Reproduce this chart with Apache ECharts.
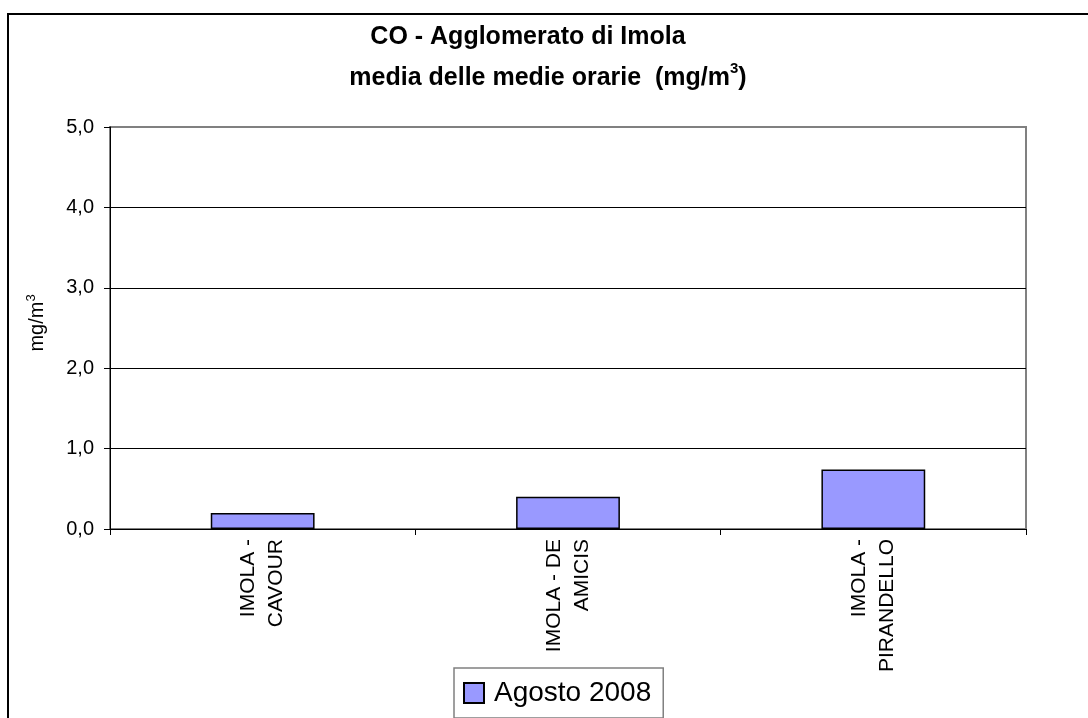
<!DOCTYPE html>
<html>
<head>
<meta charset="utf-8">
<script src="https://cdn.jsdelivr.net/npm/echarts@6.0.0/dist/echarts.min.js"></script>
<style>
  html, body { margin: 0; padding: 0; background: #fff; }
  #chart { width: 1088px; height: 718px; }
</style>
</head>
<body>
<div id="chart"></div>
<script>
const stations = ['IMOLA -\nCAVOUR', 'IMOLA - DE\nAMICIS', 'IMOLA -\nPIRANDELLO']
const agosto2008 = [0.2, 0.4, 0.74]
const seriesName = 'Agosto 2008'

const font = 'Liberation Sans, Arial, sans-serif'
const chart = echarts.init(document.getElementById('chart'))

const option = {
  animation: false,
  textStyle: { fontFamily: font, color: '#000' },
  graphic: [
    {
      type: 'rect',
      shape: { x: 8, y: 14, width: 1200, height: 800 },
      style: { fill: 'none', stroke: '#000', lineWidth: 2 },
    },
    {
      type: 'text',
      x: 528,
      y: 37,
      style: {
        text: 'CO - Agglomerato di Imola',
        font: 'bold 25px ' + font,
        fill: '#000',
        align: 'center',
        verticalAlign: 'middle',
      },
    },
    {
      type: 'text',
      x: 548,
      y: 76,
      style: {
        text: '{n|media delle medie orarie  (mg/m}{s|3}{n|)}',
        align: 'center',
        verticalAlign: 'middle',
        rich: {
          n: { font: 'bold 25px ' + font, fill: '#000', verticalAlign: 'bottom', lineHeight: 30 },
          s: { font: 'bold 15px ' + font, fill: '#000', verticalAlign: 'top', lineHeight: 30, padding: [0, 0, 12, 0] },
        },
      },
    },
    {
      type: 'text',
      x: 37,
      y: 323,
      rotation: Math.PI / 2,
      style: {
        text: '{n|mg/m}{s|3}',
        align: 'center',
        verticalAlign: 'middle',
        rich: {
          n: { fontSize: 20, fontFamily: font, fill: '#000', lineHeight: 26 },
          s: { fontSize: 13, fontFamily: font, fill: '#000', lineHeight: 26, padding: [0, 0, 12, 0] },
        },
      },
    },
  ],
  legend: {
    top: 668,
    left: 454,
    data: [seriesName],
    itemWidth: 20,
    itemHeight: 20,
    itemGap: 0,
    padding: [10, 12, 10, 9],
    borderColor: '#808080',
    borderWidth: 1.5,
    icon: 'rect',
    textStyle: { fontSize: 28, fontFamily: font, color: '#000', lineHeight: 30, padding: [0, 0, 0, 5] },
  },
  grid: {
    left: 110,
    right: 62,
    top: 127,
    bottom: 189,
    show: true,
    borderColor: '#808080',
    borderWidth: 2,
  },
  xAxis: {
    type: 'category',
    data: stations,
    axisLine: { lineStyle: { color: '#000', width: 1 } },
    axisTick: { show: true, length: 6, lineStyle: { color: '#000' } },
    axisLabel: {
      rotate: 90,
      fontSize: 21,
      fontFamily: font,
      color: '#000',
      margin: 10,
      lineHeight: 28,
    },
  },
  yAxis: {
    type: 'value',
    min: 0,
    max: 5,
    interval: 1,
    axisLine: { show: true, lineStyle: { color: '#000', width: 1 } },
    axisTick: { show: true, length: 6, lineStyle: { color: '#000' } },
    axisLabel: {
      fontSize: 20,
      fontFamily: font,
      color: '#000',
      margin: 16,
      formatter: v => v.toFixed(1).replace('.', ','),
    },
    splitLine: {
      lineStyle: { color: ['#000', '#000', '#000', '#000', '#000', '#808080'], width: 1 },
    },
  },
  series: [
    {
      name: seriesName,
      type: 'bar',
      data: agosto2008,
      barWidth: '34%',
      itemStyle: { color: '#9999ff', borderColor: '#000', borderWidth: 1.5 },
    },
  ],
}

chart.setOption(option)
</script>
</body>
</html>
